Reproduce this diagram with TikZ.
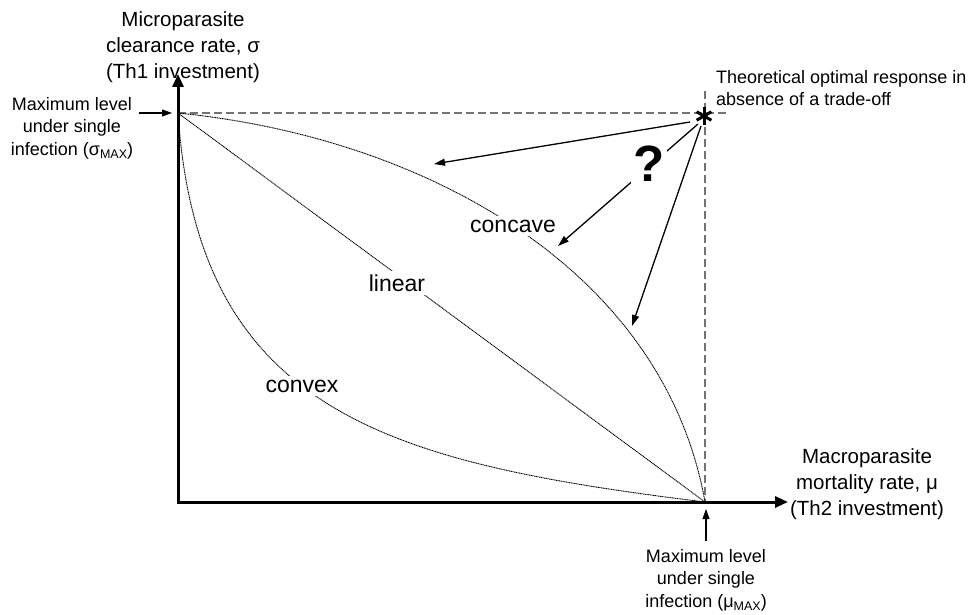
\documentclass[tikz,border=0pt]{standalone}
\usepackage{fontspec}
\setmainfont{Liberation Sans}
\usetikzlibrary{arrows.meta,calc}
\newcommand{\fsz}[2]{\fontsize{#1}{#2}\selectfont}
\newcommand{\mysub}[1]{\raisebox{-0.35ex}{\fontsize{12.5}{12.5}\selectfont #1}}
\begin{document}
\begin{tikzpicture}[x=1pt,y=-1pt,
  axis/.style={line width=3pt, line join=miter, {Triangle[length=13pt,width=11pt]}-{Triangle[length=13pt,width=11pt]}},
  guide/.style={black!55, line width=1.1pt, dash pattern=on 8pt off 4pt},
  curve/.style={black, line width=0.9pt, dash pattern=on 1.1pt off 0.6pt},
  pointer/.style={line width=1.3pt, -{Triangle[length=11pt,width=7pt]}},
  small/.style={line width=1.1pt, -{Triangle[length=10pt,width=7pt]}},
  lbl/.style={fill=white, inner sep=4pt, font=\fsz{23}{27}},
  note/.style={align=center, font=\fsz{18}{22.5}, inner sep=0pt},
  axtitle/.style={align=center, font=\fsz{20.5}{26}, inner sep=0pt}]
\useasboundingbox (0,0) rectangle (968,615);
% key points
\coordinate (O) at (178,502);
\coordinate (S) at (178,113);
\coordinate (M) at (705,502);
\coordinate (star) at (704,116);
\coordinate (ytip) at (178,74);
\coordinate (xtip) at (788,502);
% guides
\coordinate (hg) at (728,113);
\coordinate (vg) at (705,91);
\draw[guide] (S) -- (hg);
\draw[guide] (vg) -- (M);
% curves
\draw[curve] (S) .. controls (428,138) and (664,271) .. (M);
\draw[curve] (S) -- (M);
\draw[curve] (S) .. controls (198,413) and (388,463) .. (M);
% axes
\draw[axis] (ytip) -- (O) -- (xtip);
% curve labels
\node[lbl] (concave) at (513,226) {concave};
\node[lbl] (linear) at (397,283) {linear};
\node[lbl] (convex) at (302,386) {convex};
% arrows from the optimum
\coordinate (s1) at (690,122);
\coordinate (s2) at (698,124);
\coordinate (s3) at (701,126);
\coordinate (e1) at (434,164);
\coordinate (e2) at (558,246);
\coordinate (e3) at (632,326);
\draw[pointer] (s1) -- (e1);
\draw[pointer] (s2) -- (e2);
\draw[pointer] (s3) -- (e3);
\node[fill=white, inner sep=2pt, font=\bfseries\fsz{51}{51}] (q) at (649,164) {?};
% asterisk
\foreach \a in {90,30,150}{
  \draw[line width=3pt] ($(star)+(\a:8.5)$) -- ($(star)+(\a+180:8.5)$);
}
% axis titles
\node[axtitle] (ytitle) at (183,47) {Microparasite\\clearance rate, σ\\(Th1 investment)};
\node[axtitle] (xtitle) at (867,484) {Macroparasite\\mortality rate, μ\\(Th2 investment)};
% max labels
\node[note] (smax) at (72,128) {Maximum level\\under single\\infection (σ\mysub{MAX})};
\node[note] (mmax) at (706,580) {Maximum level\\under single\\infection (μ\mysub{MAX})};
\coordinate (sarr) at (139,113);
\coordinate (sarrtip) at (172,113);
\draw[small] (sarr) -- (sarrtip);
\coordinate (marr) at (706,541);
\coordinate (marrtip) at (706,509);
\draw[small] (marr) -- (marrtip);
% optimum note
\node[align=left, anchor=west, font=\fsz{18}{21.5}, inner sep=0pt] (opt) at (716,88) {Theoretical optimal response in\\absence of a trade-off};
\end{tikzpicture}
\end{document}
